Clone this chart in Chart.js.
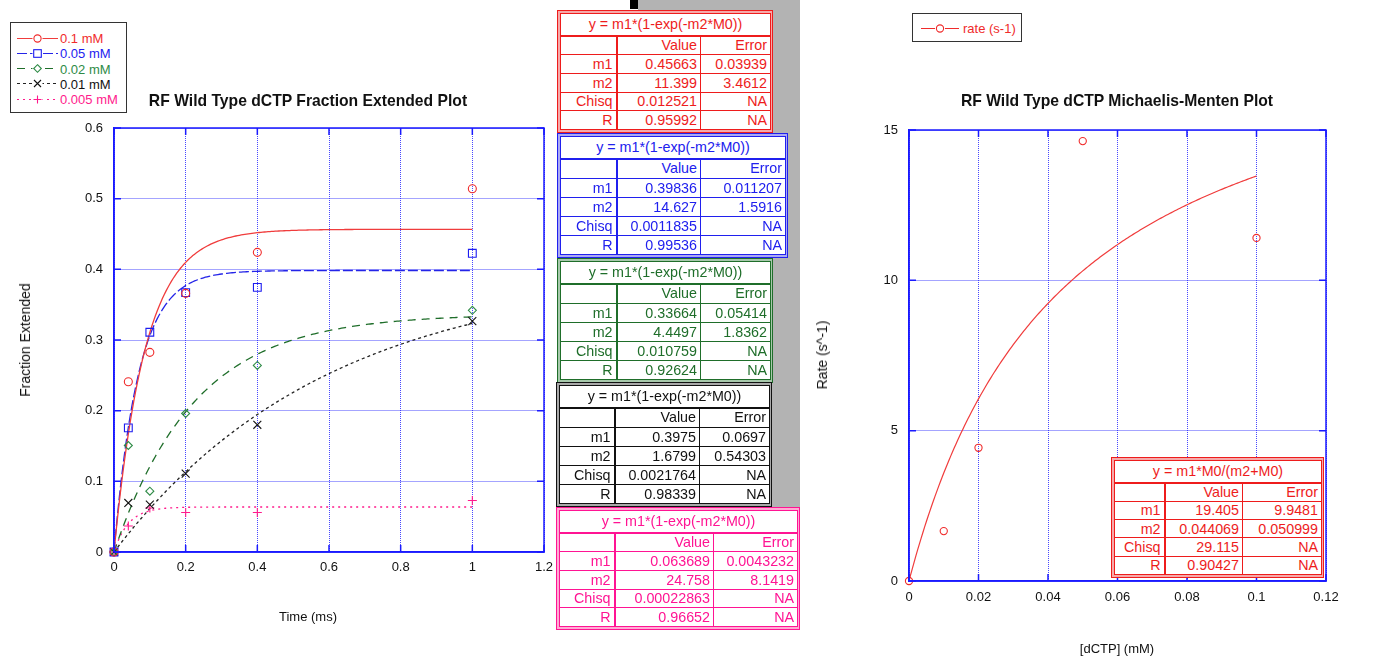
<!DOCTYPE html>
<html>
<head>
<meta charset="utf-8">
<script src="https://cdn.jsdelivr.net/npm/chart.js@4.4.1/dist/chart.umd.min.js"></script>
<style>
  html, body { margin: 0; padding: 0; background: #fff; }
  body { width: 1381px; height: 659px; position: relative; overflow: hidden;
         font-family: 'Liberation Sans', Arial, Helvetica, sans-serif; }
  canvas { position: absolute; top: 0; }
  .abs { position: absolute; }
  .title { font-weight: bold; font-size: 15.7px; color: #111; white-space: nowrap;
           transform: translate(-50%, -50%); }
  .axt { font-size: 13px; color: #111; white-space: nowrap; transform: translate(-50%, -50%); }
  .axt.rot { font-size: 14px; transform: translate(-50%, -50%) rotate(-90deg); }
  .legend { border: 1.5px solid #333; background: #fff; box-sizing: border-box; font-size: 13px; }
  .legend .row { position: absolute; left: 6px; display: flex; align-items: center; height: 15px;
                 transform: translateY(-50%); white-space: nowrap; }
  .legend svg { margin-right: 2px; }
  .fit { box-sizing: border-box; border: 1px solid; padding: 2px; z-index: 5; }
  .fit table { border-collapse: collapse; background: #fff; width: 100%; height: 100%;
               table-layout: fixed; font-size: 14.3px; }
  .fit td { border: 1px solid; text-align: right; padding: 0 3px; white-space: nowrap; line-height: 1; overflow: hidden; }
  .fit tr.head td { text-align: center; border-bottom-width: 2px; }
  .fit tr:not(.head) td:first-child { border-right-width: 2px; }
  #panel { left: 638px; top: 0; width: 162px; height: 507px; background: #b3b3b3; }
  #mark { left: 630px; top: 0; width: 8px; height: 9px; background: #000; }
</style>
</head>
<body>
<div id="panel" class="abs"></div>
<div id="mark" class="abs"></div>

<canvas id="fracChart" width="600" height="659" style="left:0"></canvas>
<canvas id="mmChart" width="581" height="659" style="left:800px"></canvas>

<div class="title abs" style="left:308px;top:101px">RF Wild Type dCTP Fraction Extended Plot</div>
<div class="axt abs" style="left:308px;top:616px">Time (ms)</div>
<div class="axt rot abs" style="left:25px;top:340px">Fraction Extended</div>

<div class="title abs" style="left:1117px;top:101px">RF Wild Type dCTP Michaelis-Menten Plot</div>
<div class="axt abs" style="left:1117px;top:648px">[dCTP] (mM)</div>
<div class="axt rot abs" style="left:822px;top:355px">Rate (s^-1)</div>

<div id="legL" class="legend abs" style="left:10px;top:22px;width:117px;height:91px"></div>
<div id="legR" class="legend abs" style="left:912px;top:13px;width:110px;height:29px"></div>

<script>
// ---------- Fraction extended vs time (ms), one series per [dCTP] ----------
const timePoints = [0, 0.04, 0.1, 0.2, 0.4, 1];
const frac01mM   = [0, 0.241, 0.2825, 0.366, 0.424, 0.514];
const frac005mM  = [0, 0.1757, 0.311, 0.367, 0.3745, 0.4227];
const frac002mM  = [0, 0.1507, 0.086, 0.196, 0.264, 0.342];
const frac001mM  = [0, 0.0694, 0.067, 0.111, 0.180, 0.3268];
const frac0005mM = [0, 0.0368, 0.0623, 0.0558, 0.0558, 0.0728];
const concLabels = ['0.1 mM', '0.05 mM', '0.02 mM', '0.01 mM', '0.005 mM'];

// Single-exponential fits y = m1*(1-exp(-m2*M0)), same order as concLabels
const expFormula = 'y = m1*(1-exp(-m2*M0))';
const fitM1    = [0.45663, 0.39836, 0.33664, 0.3975, 0.063689];
const fitM1Err = ['0.03939', '0.011207', '0.05414', '0.0697', '0.0043232'];
const fitM2    = [11.399, 14.627, 4.4497, 1.6799, 24.758];
const fitM2Err = ['3.4612', '1.5916', '1.8362', '0.54303', '8.1419'];
const fitChisq = ['0.012521', '0.0011835', '0.010759', '0.0021764', '0.00022863'];
const fitR     = ['0.95992', '0.99536', '0.92624', '0.98339', '0.96652'];

const timeTicks = [0, 0.2, 0.4, 0.6, 0.8, 1, 1.2];
const fracTicks = [0, 0.1, 0.2, 0.3, 0.4, 0.5, 0.6];

// ---------- Michaelis-Menten: rate vs [dCTP] ----------
const dctpConc   = [0, 0.01, 0.02, 0.05, 0.1];
const rateValues = [0, 1.66, 4.43, 14.63, 11.41];
const rateLabel  = 'rate (s-1)';
const mmFormula  = 'y = m1*M0/(m2+M0)';
const mmM1 = 19.405, mmM1Err = '9.9481';
const mmM2 = 0.044069, mmM2Err = '0.050999';
const mmChisq = '29.115', mmR = '0.90427';

const concTicks = [0, 0.02, 0.04, 0.06, 0.08, 0.1, 0.12];
const rateTicks = [0, 5, 10, 15];

// ---------- styling ----------
const FONT = "'Liberation Sans', Arial, Helvetica, sans-serif";
const seriesStyle = [
  { color: '#f02b2b', line: '#f03c3c', point: 'circle',   r: 4,   dash: [] },
  { color: '#1c1cf0', line: '#2424e8', point: 'rect',     r: 5.5, dash: [10, 3] },
  { color: '#2e8b46', line: '#1f6e2a', point: 'rectRot',  r: 4,   dash: [8, 6] },
  { color: '#111111', line: '#222222', point: 'crossRot', r: 5.6, dash: [3, 3] },
  { color: '#ff1a8c', line: '#ff1a8c', point: 'cross',    r: 4.5, dash: [2, 4] },
];
const tableStyle = [
  { color: '#ee1c1c', pale: '#f6a9a9' },
  { color: '#2020ee', pale: '#aaaaf4' },
  { color: '#1f6e2a', pale: '#a7c8ab' },
  { color: '#111111', pale: '#a9a9a9' },
  { color: '#ff1493', pale: '#ffaad3' },
];
const tableBoxes = [
  { left: 557, top: 10,  w: 216, h: 123, cols: [56, 84, 70] },
  { left: 557, top: 133, w: 231, h: 125, cols: [56, 84, 85] },
  { left: 557, top: 258, w: 216, h: 125, cols: [56, 84, 70] },
  { left: 556, top: 382, w: 216, h: 125, cols: [55, 85, 70] },
  { left: 556, top: 507, w: 244, h: 123, cols: [55, 99, 84] },
];
const mmBox = { left: 1111, top: 457, w: 213, h: 121, cols: [50, 78, 79] };

const seriesData = [frac01mM, frac005mM, frac002mM, frac001mM, frac0005mM];

// evaluate each reported fit model along the x axis
function expFit(m1, m2, x0, x1, n) {
  const out = [];
  for (let i = 0; i <= n; i++) {
    const x = x0 + (x1 - x0) * i / n;
    out.push({ x, y: m1 * (1 - Math.exp(-m2 * x)) });
  }
  return out;
}
function mmFit(m1, m2, x0, x1, n) {
  const out = [];
  for (let i = 0; i <= n; i++) {
    const x = x0 + (x1 - x0) * i / n;
    out.push({ x, y: m1 * x / (m2 + x) });
  }
  return out;
}

// plot frame with short inward tick marks on all four sides
const frameTicks = {
  id: 'frameTicks',
  afterDatasetsDraw(chart) {
    const { ctx, chartArea: a, scales: { x, y } } = chart;
    ctx.save();
    ctx.strokeStyle = '#1a1aff';
    ctx.lineWidth = 1.5;
    ctx.strokeRect(a.left, a.top, a.right - a.left, a.bottom - a.top);
    const L = 7;
    ctx.beginPath();
    x.ticks.forEach(t => {
      const px = x.getPixelForValue(t.value);
      ctx.moveTo(px, a.bottom); ctx.lineTo(px, a.bottom - L);
      ctx.moveTo(px, a.top); ctx.lineTo(px, a.top + L);
    });
    y.ticks.forEach(t => {
      const py = y.getPixelForValue(t.value);
      ctx.moveTo(a.left, py); ctx.lineTo(a.left + L, py);
      ctx.moveTo(a.right, py); ctx.lineTo(a.right - L, py);
    });
    ctx.stroke();
    ctx.restore();
  }
};

function axis(min, max, tickValues, pad, size, isX) {
  return {
    type: 'linear', min, max,
    afterBuildTicks: s => { s.ticks = tickValues.map(v => ({ value: v })); },
    ticks: { padding: pad, color: '#111', font: { family: FONT, size: 13 },
             callback: v => String(v), maxRotation: 0, autoSkip: false },
    grid: { color: 'rgba(40,40,255,0.85)', lineWidth: 1, drawTicks: false },
    border: { color: '#1a1aff', width: 1.5, dash: [1, 1] },
    afterFit: s => { if (isX) s.height = size; else s.width = size; }
  };
}

// ---------- left chart ----------
const leftSets = [];
seriesData.forEach((vals, i) => {
  const st = seriesStyle[i];
  leftSets.push({
    label: concLabels[i],
    data: timePoints.map((t, k) => ({ x: t, y: vals[k] })),
    showLine: false, pointStyle: st.point, pointRadius: st.r,
    pointBorderColor: st.color, pointBackgroundColor: 'rgba(0,0,0,0)',
    pointBorderWidth: 1.1, clip: false
  });
});
seriesData.forEach((vals, i) => {
  const st = seriesStyle[i];
  leftSets.push({
    label: concLabels[i] + ' fit',
    data: expFit(fitM1[i], fitM2[i], 0, 1, 200),
    showLine: true, pointRadius: 0, borderColor: st.line, borderWidth: 1.3,
    borderDash: st.dash, tension: 0
  });
});

new Chart(document.getElementById('fracChart'), {
  type: 'scatter',
  data: { datasets: leftSets },
  options: {
    responsive: false, animation: false, events: [],
    layout: { padding: { left: 0, top: 128, right: 56, bottom: 0 } },
    plugins: { legend: { display: false }, tooltip: { enabled: false } },
    scales: {
      x: axis(0, 1.2, timeTicks, 8, 107, true),
      y: axis(0, 0.6, fracTicks, 11, 114, false)
    }
  },
  plugins: [frameTicks]
});

// ---------- right chart ----------
new Chart(document.getElementById('mmChart'), {
  type: 'scatter',
  data: {
    datasets: [
      { label: rateLabel, data: dctpConc.map((c, k) => ({ x: c, y: rateValues[k] })),
        showLine: false, pointStyle: 'circle', pointRadius: 3.6,
        pointBorderColor: '#f02b2b', pointBackgroundColor: 'rgba(0,0,0,0)', pointBorderWidth: 1.1, clip: false },
      { label: rateLabel + ' fit', data: mmFit(mmM1, mmM2, 0, 0.1, 200),
        showLine: true, pointRadius: 0, borderColor: '#f03c3c', borderWidth: 1.2, tension: 0 }
    ]
  },
  options: {
    responsive: false, animation: false, events: [],
    layout: { padding: { left: 0, top: 130, right: 55, bottom: 0 } },
    plugins: { legend: { display: false }, tooltip: { enabled: false } },
    scales: {
      x: axis(0, 0.12, concTicks, 9, 78, true),
      y: axis(0, 15, rateTicks, 11, 109, false)
    }
  },
  plugins: [frameTicks]
});

// ---------- legends ----------
function markerSvg(kind, color, cx, cy) {
  const s = `stroke="${color}" stroke-width="1.1" fill="none"`;
  switch (kind) {
    case 'circle':   return `<circle cx="${cx}" cy="${cy}" r="3.6" ${s}/>`;
    case 'rect':     return `<rect x="${cx - 3.8}" y="${cy - 3.8}" width="7.6" height="7.6" ${s} fill="#fff"/>`;
    case 'rectRot':  return `<path d="M${cx} ${cy - 3.8}L${cx + 3.8} ${cy}L${cx} ${cy + 3.8}L${cx - 3.8} ${cy}Z" ${s} fill="#fff"/>`;
    case 'crossRot': return `<path d="M${cx - 3.5} ${cy - 3.5}L${cx + 3.5} ${cy + 3.5}M${cx + 3.5} ${cy - 3.5}L${cx - 3.5} ${cy + 3.5}" ${s}/>`;
    case 'cross':    return `<path d="M${cx - 4} ${cy}L${cx + 4} ${cy}M${cx} ${cy - 4}L${cx} ${cy + 4}" ${s}/>`;
  }
  return '';
}
function legendIcon(st, w) {
  const dash = st.dash.length ? `stroke-dasharray="${st.dash.join(' ')}"` : '';
  return `<svg width="${w}" height="12" viewBox="0 0 ${w} 12">` +
         `<line x1="0" y1="6" x2="${w}" y2="6" stroke="${st.line}" stroke-width="1.2" ${dash}/>` +
         `<rect x="${w / 2 - 5}" y="1" width="10" height="10" fill="#fff"/>` +
         markerSvg(st.point, st.color, w / 2, 6) + `</svg>`;
}
const legL = document.getElementById('legL');
concLabels.forEach((lab, i) => {
  const st = seriesStyle[i];
  const row = document.createElement('div');
  row.className = 'row';
  row.style.top = (15 + i * 15.3) + 'px';
  row.style.color = st.color;
  row.innerHTML = legendIcon(st, 41) + '<span>' + lab + '</span>';
  legL.appendChild(row);
});
const legR = document.getElementById('legR');
{
  const row = document.createElement('div');
  row.className = 'row';
  row.style.left = '8px';
  row.style.top = '14px';
  row.style.color = '#f02b2b';
  row.innerHTML = legendIcon({ line: '#f02b2b', color: '#f02b2b', point: 'circle', dash: [] }, 38) +
                  '<span style="margin-left:2px">' + rateLabel + '</span>';
  legR.appendChild(row);
}

// ---------- fit parameter tables ----------
function fitTable(box, sty, formula, rows) {
  const div = document.createElement('div');
  div.className = 'fit abs';
  Object.assign(div.style, {
    left: box.left + 'px', top: box.top + 'px', width: box.w + 'px', height: box.h + 'px',
    borderColor: sty.color, background: sty.pale, color: sty.color
  });
  let html = '<table><colgroup>' + box.cols.map(w => `<col style="width:${w}px">`).join('') + '</colgroup>';
  html += `<tr class="head" style="height:22px"><td colspan="3" style="border-color:${sty.color}">${formula}</td></tr>`;
  rows.forEach(r => {
    html += '<tr>' + r.map(c => `<td style="border-color:${sty.color}">${c}</td>`).join('') + '</tr>';
  });
  html += '</table>';
  div.innerHTML = html;
  document.body.appendChild(div);
}
concLabels.forEach((lab, i) => {
  fitTable(tableBoxes[i], tableStyle[i], expFormula, [
    ['', 'Value', 'Error'],
    ['m1', String(fitM1[i]), fitM1Err[i]],
    ['m2', String(fitM2[i]), fitM2Err[i]],
    ['Chisq', fitChisq[i], 'NA'],
    ['R', fitR[i], 'NA']
  ]);
});
fitTable(mmBox, tableStyle[0], mmFormula, [
  ['', 'Value', 'Error'],
  ['m1', String(mmM1), mmM1Err],
  ['m2', String(mmM2), mmM2Err],
  ['Chisq', mmChisq, 'NA'],
  ['R', mmR, 'NA']
]);
</script>
</body>
</html>
